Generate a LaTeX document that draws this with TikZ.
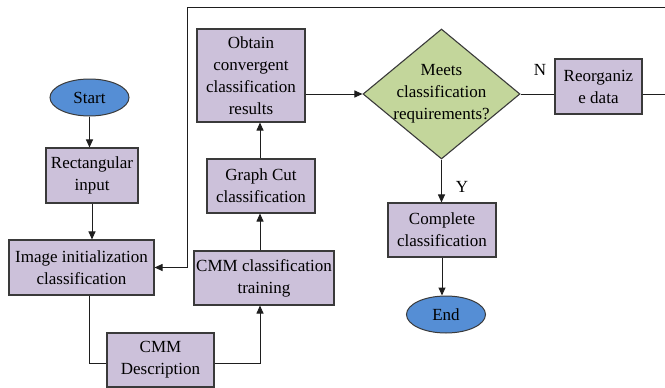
\documentclass[tikz,border=0pt]{standalone}
\usepackage{fontspec}
\setmainfont{Liberation Serif}
\usetikzlibrary{shapes.geometric,arrows.meta,calc}
\definecolor{boxfill}{HTML}{CCC1DA}
\definecolor{boxline}{HTML}{3A3A3A}
\definecolor{termfill}{HTML}{558ED5}
\definecolor{decfill}{HTML}{C3D69B}
\definecolor{wire}{HTML}{1E1E1E}
\tikzset{
  stepbox/.style={draw=boxline, fill=boxfill, line width=1.1pt, inner sep=0pt,
    align=center, font=\fontsize{17}{22}\selectfont},
  term/.style={ellipse, draw=boxline, fill=termfill, line width=1pt, inner sep=0pt,
    minimum width=79pt, minimum height=37pt, font=\fontsize{17}{20}\selectfont},
  decision/.style={diamond, draw=boxline, fill=decfill, line width=1.1pt, inner sep=0pt,
    minimum width=157pt, minimum height=130pt},
  flow/.style={draw=wire, line width=1pt},
  arr/.style={flow, -{Triangle[length=8pt,width=7pt]}},
  tag/.style={font=\fontsize{17}{20}\selectfont}
}
\begin{document}
\begin{tikzpicture}[x=1pt,y=-1pt]
\useasboundingbox (0,0) rectangle (665,388);

% terminals
\node[term] (start) at (89.5,97.5) {Start};
\node[term] (end) at (446,314.5) {End};

% process boxes
\node[stepbox, minimum width=92pt, minimum height=55pt] (rect) at (92,175.5) {Rectangular\\input};
\node[stepbox, minimum width=145pt, minimum height=55pt] (init) at (81.5,267.5) {Image initialization\\classification};
\node[stepbox, minimum width=107pt, minimum height=54pt] (desc) at (160.5,360) {CMM\\Description};
\node[stepbox, minimum width=140pt, minimum height=54pt] (train) at (264,278) {CMM classification\\training};
\node[stepbox, minimum width=108pt, minimum height=54pt] (gc) at (261,186) {Graph Cut\\classification};
\node[stepbox, minimum width=108pt, minimum height=93pt] (obtain) at (251,75.5) {Obtain\\convergent\\classification\\results};
\node[stepbox, minimum width=87pt, minimum height=55pt] (reorg) at (598.5,86.5) {Reorganiz\\e data};
\node[stepbox, minimum width=108pt, minimum height=54pt] (complete) at (442,230) {Complete\\classification};

% decision
\node[decision] (dia) at (441.5,94) {};
\node[stepbox, draw=none, fill=none] (diatext) at (dia.center) {Meets\\classification\\requirements?};

% branch labels
\node[tag] (nlab) at (540,70) {N};
\node[tag] (ylab) at (462,187) {Y};

% routing points
\coordinate (colx) at (260,0);
\coordinate (rc) at (667,7.7);
\coordinate (lc) at (187.3,7.7);

% connectors
\draw[arr] (start.south) -- (rect.north -| start.south);
\draw[arr] (rect.south) -- (rect.south |- init.north);
\draw[flow] ($(init.south)+(7.5,0)$) |- ($(desc.west)+(0,3)$);
\draw[arr] ($(desc.east)+(0,3)$) -| (train.south -| colx);
\draw[arr] (train.north -| colx) -- (gc.south -| colx);
\draw[arr] (gc.north -| colx) -- (obtain.south -| colx);
\draw[arr] (dia.west -| obtain.east) -- (dia.west);
\draw[flow] (dia.east) -- (dia.east -| reorg.west);
\draw[arr] (dia.east -| reorg.east) -| (rc) -- (lc) |- (init.east);
\draw[arr] (dia.south) -- (complete.north -| dia.south);
\draw[arr] (complete.south) -- (complete.south |- end.north);
\end{tikzpicture}
\end{document}
